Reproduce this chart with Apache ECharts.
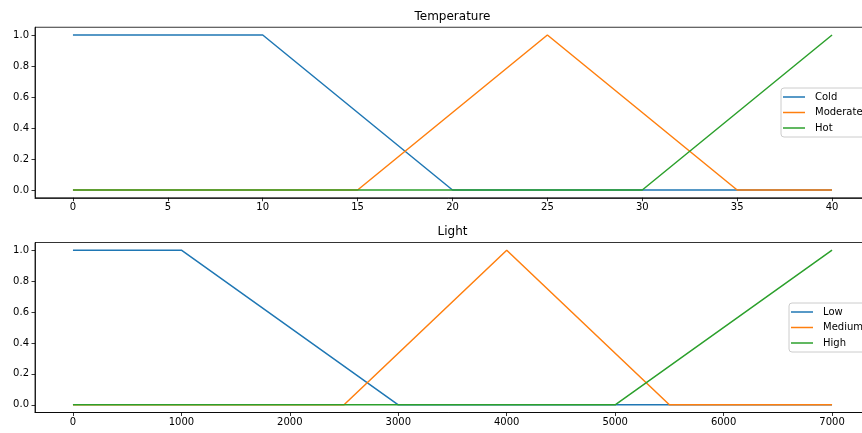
<!DOCTYPE html>
<html>
<head>
<meta charset="utf-8">
<script src="https://cdn.jsdelivr.net/npm/echarts@6/dist/echarts.min.js"></script>
<style>html,body{margin:0;padding:0;background:#fff}#c{width:862px;height:433px}</style>
</head>
<body>
<div id="c"></div>
<script>
// Temperature membership functions (x, membership)
const tempCold = [[0,1],[10,1],[20,0],[40,0]];
const tempModerate = [[0,0],[15,0],[25,1],[35,0],[40,0]];
const tempHot = [[0,0],[30,0],[40,1]];
// Light membership functions
const lightLow = [[0,1],[1000,1],[3000,0],[7000,0]];
const lightMedium = [[0,0],[2500,0],[4000,1],[5500,0],[7000,0]];
const lightHigh = [[0,0],[5000,0],[7000,1]];
// Tick labels
const tempTicks = [0,5,10,15,20,25,30,35,40];
const lightTicks = [0,1000,2000,3000,4000,5000,6000,7000];
const yTicks = [0,0.2,0.4,0.6,0.8,1.0];

const C = ['#1f77b4','#ff7f0e','#2ca02c'];
const font = 'DejaVu Sans';
const txt = {color:'#000', fontFamily:font, fontSize:10};

function xAxis(idx, min, max, ticks){
  return {type:'value', gridIndex:idx, min:min, max:max,
    axisLine:{show:true, onZero:false, lineStyle:{color:'#000', width:0.8}},
    axisTick:{show:true, length:3.5, customValues:ticks, lineStyle:{color:'#000', width:0.8}},
    axisLabel:Object.assign({customValues:ticks, margin:5, formatter:v=>String(v)}, txt),
    splitLine:{show:false}};
}
function yAxis(idx){
  return {type:'value', gridIndex:idx, min:-0.05, max:1.05,
    axisLine:{show:true, onZero:false, lineStyle:{color:'#000', width:0.8}},
    axisTick:{show:true, length:3.5, customValues:yTicks, lineStyle:{color:'#000', width:0.8}},
    axisLabel:Object.assign({customValues:yTicks, margin:6, formatter:v=>v.toFixed(1)}, txt),
    splitLine:{show:false}};
}
function line(name, data, color, idx){
  return {name:name, type:'line', data:data, xAxisIndex:idx, yAxisIndex:idx,
    symbol:'none', lineStyle:{color:color, width:1.5}, itemStyle:{color:color}, animation:false};
}
function legend(names, left, top){
  return {data:names, orient:'vertical', left:left, top:top, icon:'rect', itemWidth:22, itemHeight:1.5,
    itemGap:3.5, padding:[3,6,3,2], backgroundColor:'rgba(255,255,255,0.8)',
    borderColor:'#ccc', borderWidth:1, borderRadius:3,
    textStyle:{color:'#000', fontFamily:font, fontSize:10, lineHeight:12, padding:[0,0,0,5]}};
}

const chart = echarts.init(document.getElementById('c'), null, {renderer:'canvas'});
chart.setOption({
  animation:false,
  grid:[
    {left:35, top:27.25, width:835, height:170.5, show:true, borderColor:'#000', borderWidth:0.8, containLabel:false, outerBoundsMode:'none'},
    {left:35, top:242.5, width:835, height:170, show:true, borderColor:'#000', borderWidth:0.8, containLabel:false, outerBoundsMode:'none'}
  ],
  graphic:[
    {type:'text', x:452.5, y:17, style:{text:'Temperature', fill:'#000', font:'12px "DejaVu Sans"', align:'center', verticalAlign:'middle'}},
    {type:'text', x:452.5, y:232, style:{text:'Light', fill:'#000', font:'12px "DejaVu Sans"', align:'center', verticalAlign:'middle'}}
  ],
  legend:[
    legend(['Cold','Moderate','Hot'], 781, 88),
    legend(['Low','Medium','High'], 789, 303)
  ],
  xAxis:[xAxis(0,-2,42,tempTicks), xAxis(1,-350,7350,lightTicks)],
  yAxis:[yAxis(0), yAxis(1)],
  series:[
    line('Cold', tempCold, C[0], 0),
    line('Moderate', tempModerate, C[1], 0),
    line('Hot', tempHot, C[2], 0),
    line('Low', lightLow, C[0], 1),
    line('Medium', lightMedium, C[1], 1),
    line('High', lightHigh, C[2], 1)
  ]
});
</script>
</body>
</html>
